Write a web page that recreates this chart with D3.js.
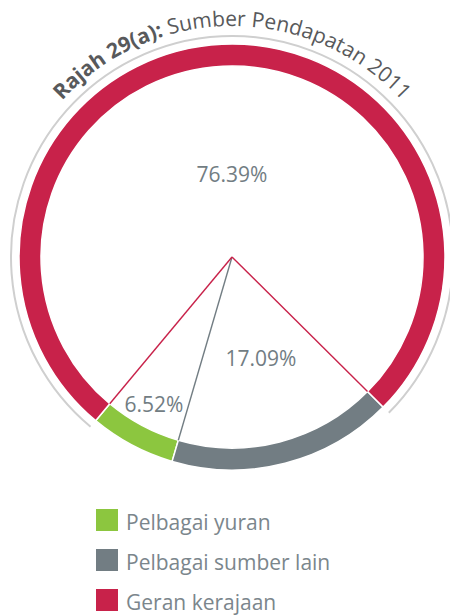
<!DOCTYPE html>
<html>
<head>
<meta charset="utf-8">
<script src="https://cdn.jsdelivr.net/npm/d3@7/dist/d3.min.js"></script>
<style>
  html, body { margin: 0; padding: 0; background: #fff; }
  svg { display: block; }
  text { font-family: "Open Sans", "Noto Sans", sans-serif; }
</style>
</head>
<body>
<svg id="chart" width="450" height="615"></svg>
<script>
// Sumber Pendapatan 2011 (percent of income)
const categories = ["Pelbagai yuran", "Pelbagai sumber lain", "Geran kerajaan"];
const values = [6.52, 17.09, 76.39];
const colors = ["#8cc63f", "#727d83", "#c8224a"];
// clockwise drawing order of the slices around the ring
const drawOrder = ["Pelbagai sumber lain", "Pelbagai yuran", "Geran kerajaan"];
const titleBold = "Rajah 29(a):";
const titleRest = " Sumber Pendapatan 2011";

const data = categories.map((c, i) => ({ name: c, value: values[i], color: colors[i] }));

const svg = d3.select("#chart");
const cx = 232, cy = 257;
const rOuter = 213, rInner = 191, rRim = 221, rTitle = 231;
const deg = Math.PI / 180;

const pie = d3.pie()
  .value(d => d.value)
  .sort((a, b) => drawOrder.indexOf(a.name) - drawOrder.indexOf(b.name))
  .startAngle(134.8 * deg)
  .endAngle(134.8 * deg + 2 * Math.PI);

const arcs = pie(data);
const g = svg.append("g").attr("transform", `translate(${cx},${cy})`);

// thin rim following the largest slice
const big = arcs.find(a => a.data.name === "Geran kerajaan");
g.append("path")
  .attr("d", d3.arc()({ innerRadius: rRim, outerRadius: rRim, startAngle: big.startAngle, endAngle: big.endAngle }))
  .attr("fill", "none")
  .attr("stroke", "#cfcfcf")
  .attr("stroke-width", 2);

// ring segments
const ring = d3.arc().innerRadius(rInner).outerRadius(rOuter);
g.selectAll("path.seg")
  .data(arcs)
  .join("path")
  .attr("class", "seg")
  .attr("d", ring)
  .attr("fill", d => d.data.color)
  .attr("stroke", "#fff")
  .attr("stroke-width", 1.5);

// spokes from the centre to each slice boundary (in clockwise order)
const ordered = arcs.slice().sort((a, b) => a.startAngle - b.startAngle);
const spoke = a => [Math.sin(a) * rInner, -Math.cos(a) * rInner];
const boundaries = ordered.map((a, i) => {
  const next = ordered[(i + 1) % ordered.length];
  const touchesBig = a.data.name === "Geran kerajaan" || next.data.name === "Geran kerajaan";
  return { angle: a.endAngle, color: touchesBig ? "#c8224a" : "#727d83" };
});
g.selectAll("line.spoke")
  .data(boundaries)
  .join("line")
  .attr("class", "spoke")
  .attr("x1", 0).attr("y1", 0)
  .attr("x2", d => spoke(d.angle)[0])
  .attr("y2", d => spoke(d.angle)[1])
  .attr("stroke", d => d.color)
  .attr("stroke-width", 1.4);

// value labels
const labelPos = {
  "Geran kerajaan": [232, 182],
  "Pelbagai sumber lain": [261, 366],
  "Pelbagai yuran": [154, 412]
};
svg.selectAll("text.val")
  .data(arcs)
  .join("text")
  .attr("class", "val")
  .attr("x", d => labelPos[d.data.name][0])
  .attr("y", d => labelPos[d.data.name][1])
  .attr("text-anchor", "middle")
  .attr("font-size", 21)
  .attr("fill", "#727d83")
  .text(d => d.data.value.toFixed(2) + "%");

// curved title along the top
const tp = d3.path();
tp.arc(0, 0, rTitle, Math.PI, 2 * Math.PI, false);
g.append("path").attr("id", "titlePath").attr("d", tp.toString()).attr("fill", "none");
const t = g.append("text").attr("font-size", 21).attr("fill", "#58595b");
const tpath = t.append("textPath")
  .attr("href", "#titlePath")
  .attr("startOffset", "50%")
  .attr("text-anchor", "middle");
tpath.append("tspan").attr("font-weight", "bold").text(titleBold);
tpath.append("tspan").text(titleRest);

// legend
const legend = svg.append("g").attr("transform", "translate(96,509)");
const item = legend.selectAll("g")
  .data(data)
  .join("g")
  .attr("transform", (d, i) => `translate(0,${i * 40})`);
item.append("rect").attr("width", 22).attr("height", 22).attr("fill", d => d.color);
item.append("text")
  .attr("x", 30).attr("y", 21)
  .attr("font-size", 21)
  .attr("fill", "#7b868c")
  .text(d => d.name);
</script>
</body>
</html>
